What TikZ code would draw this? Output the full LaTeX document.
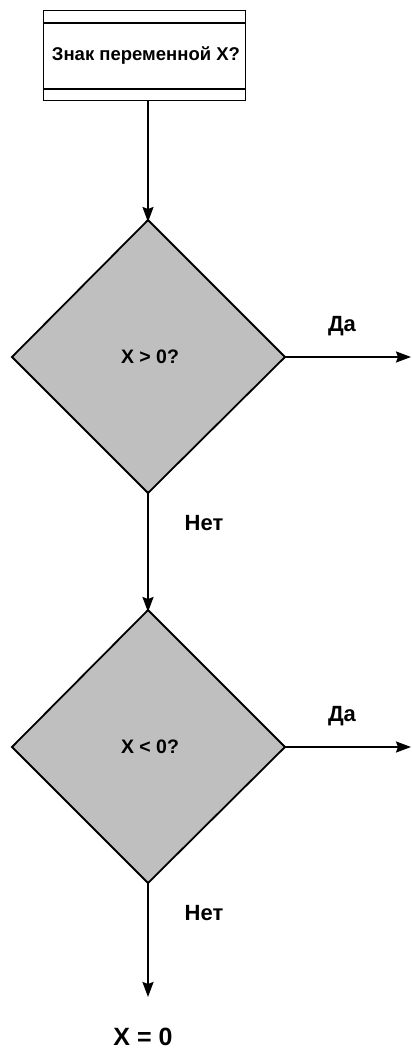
\documentclass[tikz,border=0pt]{standalone}
\usepackage{fontspec}
\setmainfont{Liberation Sans}
\usetikzlibrary{arrows.meta}
\begin{document}
\begin{tikzpicture}[x=1pt,y=-1pt,
  line width=1.8pt,
  flow/.style={draw=black,line width=1.9pt,-{Stealth[length=15pt,width=11pt,inset=2pt]}},
  lbl/.style={font=\bfseries\fontsize{22}{26}\selectfont,inner sep=0pt},
  inlbl/.style={font=\bfseries\fontsize{19.5}{22}\selectfont,inner sep=0pt},
  dia/.style={draw=black,fill=black!25,line width=1.8pt}]
\useasboundingbox (0,0) rectangle (412,1050);
% top box
\node[draw=black,line width=1.4pt,minimum width=202pt,minimum height=90pt,inner sep=0pt,anchor=north west] (box) at (43,10) {};
\draw[line width=1.1pt] (43,23) -- (245,23);
\draw[line width=1.1pt] (43,89) -- (245,89);
\node[font=\bfseries\fontsize{18.5}{22}\selectfont,inner sep=0pt] (t) at (146,56) {Знак переменной X?};
% diamond 1
\path[dia] (148,220) coordinate (d1t) -- (285,357) coordinate (d1r) -- (148,493) coordinate (d1b) -- (12,357) coordinate (d1l) -- cycle;
\node[inlbl] (q1) at (150,357) {X > 0?};
% diamond 2
\path[dia] (148,610) coordinate (d2t) -- (285,747) coordinate (d2r) -- (148,883) coordinate (d2b) -- (12,747) coordinate (d2l) -- cycle;
\node[inlbl] (q2) at (150,747) {X < 0?};
\coordinate (s0) at (148,100);
\coordinate (e1) at (411,357);
\coordinate (e2) at (411,747);
\coordinate (e3) at (148,997);
\draw[flow] (s0) -- ([yshift=-2pt]d1t);
\draw[flow] (d1r) -- (e1);
\draw[flow] (d1b) -- ([yshift=-2pt]d2t);
\draw[flow] (d2r) -- (e2);
\draw[flow] (d2b) -- (e3);
\node[lbl] (y1) at (342,326) {Да};
\node[lbl] (n1) at (204,523) {Нет};
\node[lbl] (y2) at (342,716) {Да};
\node[lbl] (n2) at (204,913) {Нет};
\node[font=\bfseries\fontsize{25}{28}\selectfont,inner sep=0pt] (z) at (143,1037) {X = 0};
\end{tikzpicture}
\end{document}
